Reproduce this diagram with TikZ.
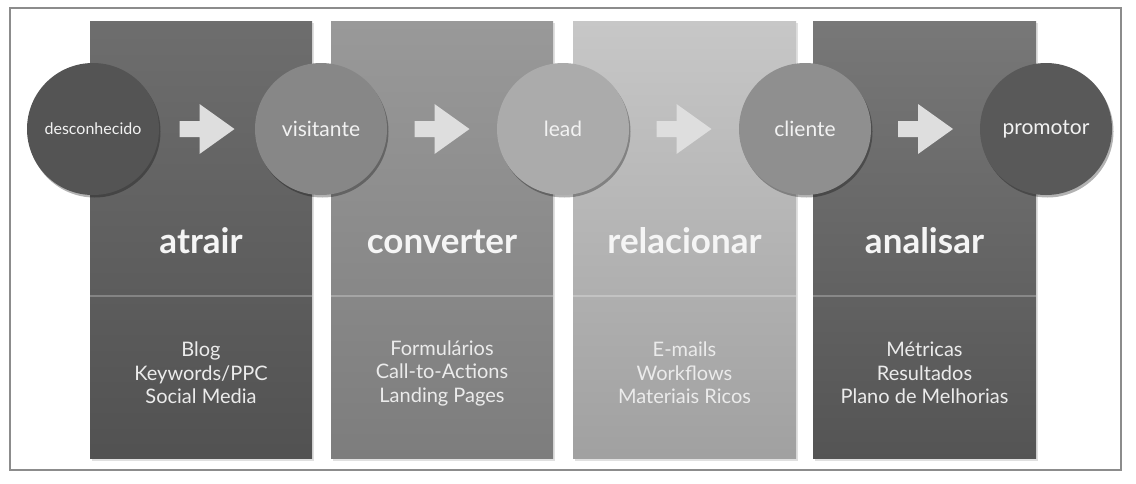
\documentclass[tikz,border=0pt]{standalone}
\usepackage{fontspec}
\setmainfont{Lato}
\usetikzlibrary{shadows,calc}
\begin{document}
\begin{tikzpicture}[x=1pt,y=-1pt,
  stage/.style={circle, minimum size=132pt, inner sep=0pt, text=white!95!black,
    font=\fontsize{21}{24}\selectfont,
    drop shadow={shadow xshift=1.5pt,shadow yshift=-2.5pt,opacity=0.3,fill=black}},
  head/.style={text=white!96!black, anchor=base, inner sep=0pt, font=\fontsize{35}{40}\selectfont\bfseries},
  items/.style={text=white!92!black, align=center, inner sep=0pt, font=\fontsize{20}{23.5}\selectfont},
  blockarrow/.style={fill=black!13},
  divider/.style={draw=white, draw opacity=0.25, line width=2pt},
]
\useasboundingbox (0,0) rectangle (1136,483);
\fill[white] (0,0) rectangle (1136,483);
\draw[black!45, line width=1.5pt] (10,8) rectangle (1121,470);

% columns
\foreach \xa/\xb/\tc/\bc/\nm in {90/312/black!57/black!68/c1, 331/553/black!40/black!51/c2, 573/796/black!22/black!37/c3, 813/1036/black!53/black!67/c4}{
  \fill[black!12] (\xa+2,23) rectangle (\xb+2,461);
  \path[top color=\tc, bottom color=\bc] (\xa,21) rectangle (\xb,458);
  \coordinate (\nm) at ({(\xa+\xb)/2},0);
  \draw[divider] (\xa,296) -- (\xb,296);
}

% headings
\node[head] (h1) at ($(c1)+(0,253)$) {atrair};
\node[head] (h2) at ($(c2)+(0,253)$) {converter};
\node[head] (h3) at ($(c3)+(0,253)$) {relacionar};
\node[head] (h4) at ($(c4)+(0,253)$) {analisar};

% items
\node[items] (l1) at ($(c1)+(0,373)$) {Blog\\Keywords/PPC\\Social Media};
\node[items] (l2) at ($(c2)+(0,373)$) {Formulários\\Call-to-Actions\\Landing Pages};
\node[items] (l3) at ($(c3)+(0,373)$) {E-mails\\Workflows\\Materiais Ricos};
\node[items] (l4) at ($(c4)+(0,373)$) {Métricas\\Resultados\\Plano de Melhorias};

% stage circles
\node[stage, fill=black!67, font=\fontsize{16}{19}\selectfont] (s1) at (93,129) {desconhecido};
\node[stage, fill=black!47] (s2) at (321,129) {visitante};
\node[stage, fill=black!33] (s3) at (563,129) {lead};
\node[stage, fill=black!44] (s4) at (805,129) {cliente};
\node[stage, fill=black!65] (s5) at (1046,129) {promotor};

% block arrows between circles
\foreach \p/\q in {s1/s2, s2/s3, s3/s4, s4/s5}{
  \coordinate (m) at ($(\p)!0.5!(\q)$);
  \fill[blockarrow] ($(m)+(-27.5,-8)$) -- ++(20,0) -- ++(0,-17) -- ++(35,25)
     -- ++(-35,25) -- ++(0,-17) -- ++(-20,0) -- cycle;
}
\end{tikzpicture}
\end{document}
